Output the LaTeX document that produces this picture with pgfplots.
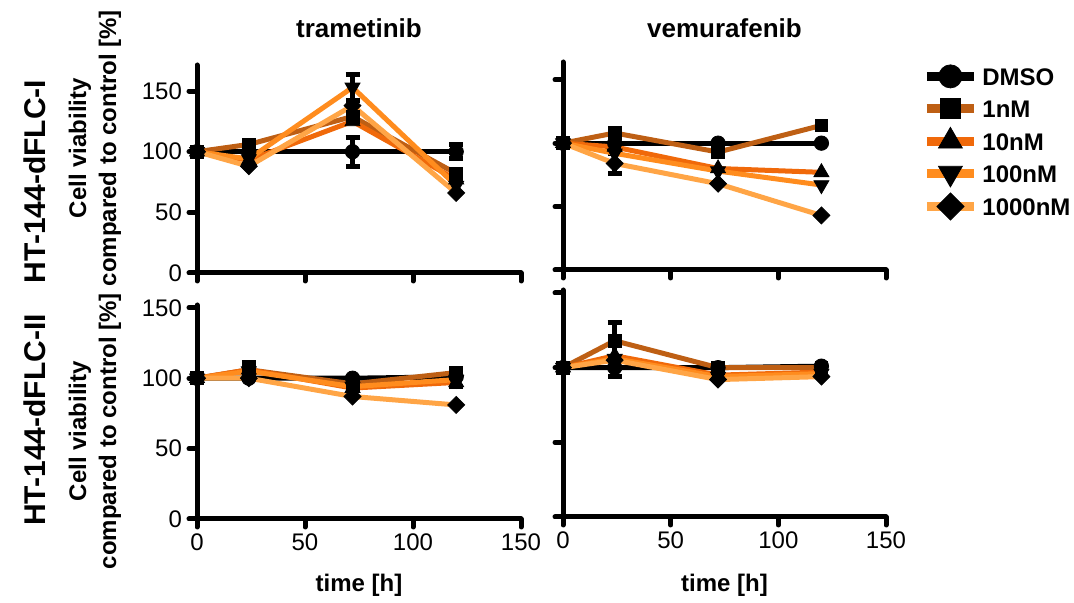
\documentclass[border=0pt]{standalone}
\usepackage{fontspec}
\setmainfont{Liberation Sans}
\usepackage{pgfplots}
\usepackage{pgfplotstable}
\pgfplotsset{compat=1.18}

\definecolor{cA}{RGB}{190,95,20}
\definecolor{cB}{RGB}{240,105,10}
\definecolor{cC}{RGB}{255,140,30}
\definecolor{cD}{RGB}{255,165,70}

% columns: time, DMSO, 1nM, 10nM, 100nM, 1000nM
\pgfplotstableread{
t dmso n1 n10 n100 n1000
0 100 100 100 100 100
24 100 106 93 94 88
72 100 129 125 153 138
120 100 82 77 72 66
}\tramI
\pgfplotstableread{
t dmso n1 n10 n100 n1000
0 100 100 100 100 100
24 100 108 97 92 84
72 100 93 80 78 68
120 100 114 77 67 43
}\vemI
\pgfplotstableread{
t dmso n1 n10 n100 n1000
0 100 100 100 100 100
24 100 106 106 105 100
72 100 96 93 94 87
120 101 104 97 99 81
}\tramII
\pgfplotstableread{
t dmso n1 n10 n100 n1000
0 100 100 100 100 100
24 100 118 108 106 105
72 100 100 95 94 92
120 101 100 97 96 94
}\vemII
% error bars (mean, sd)
\pgfplotstableread{
t y e
72 100 12
72 153 11
120 100 6
}\tramIerr
\pgfplotstableread{
t y e
24 84 8
}\vemIerr
\pgfplotstableread{
t y e
24 105 6
120 100 6
}\tramIIerr
\pgfplotstableread{
t y e
24 118 12
24 100 6
}\vemIIerr

\tikzset{mk/.style={solid, line width=0.4pt, draw=black, fill=black}}

\pgfplotsset{
  panel/.style={
    scale only axis, xmin=0, xmax=150, ymin=0,
    axis lines=left,
    axis line style={-, line width=2.5pt, line cap=round},
    tick align=outside, major tick length=4pt,
    tick style={line width=2.5pt, line cap=round, black},
    xtick={0,50,100,150}, ytick={0,50,100,150},
    tick label style={font=\fontsize{12}{13}\selectfont},
    /pgf/number format/assume math mode=true,
    clip=false,
    xlabel style={at={(axis description cs:0.5,0)}, anchor=center, yshift=-33pt,
      font=\bfseries\fontsize{12}{13}\selectfont},
    ylabel style={align=center, anchor=center, font=\bfseries\fontsize{12}{15}\selectfont},
  },
  ser/.style={line width=2.5pt},
  sdmso/.style={ser, black, mark=*, mark size=3.6pt, mark options={mk}},
  s1/.style={ser, cA, mark=square*, mark size=3.2pt, mark options={mk}},
  s10/.style={ser, cB, mark=triangle*, mark size=4.3pt, mark options={mk}},
  s100/.style={ser, cC, mark=triangle*, mark size=4.3pt, mark options={mk, rotate=180}},
  s1000/.style={ser, cD, mark=square*, mark size=3pt, mark options={mk, rotate=45}},
  errb/.style={forget plot, draw=none, mark=none,
    error bars/.cd, y dir=both, y explicit,
    error bar style={draw=black, line width=2.5pt},
    error mark options={draw=black, line width=2.5pt, mark size=3.5pt, rotate=90}},
}

\begin{document}
\begin{tikzpicture}
\path[use as bounding box] (0,0) rectangle (537pt,301.5pt);

% top left
\begin{axis}[panel, at={(98.5pt,165pt)}, anchor=south west,
  width=162pt, height=104pt, ymax=171.5, xticklabels={},
  ylabel={Cell viability\\compared to control [\%]},
  ylabel style={at={(axis description cs:-0.315,0.6)}}]
\addplot[errb] table[x=t, y=y, y error=e]{\tramIerr};
\addplot[sdmso] table[x=t, y=dmso]{\tramI};
\addplot[s1] table[x=t, y=n1]{\tramI};
\addplot[s10] table[x=t, y=n10]{\tramI};
\addplot[s100] table[x=t, y=n100]{\tramI};
\addplot[s1000] table[x=t, y=n1000]{\tramI};
\node[font=\bfseries\fontsize{13}{15}\selectfont, yshift=18.5pt] at (axis description cs:0.5,1) {trametinib};
\node[rotate=90, font=\bfseries\fontsize{15}{17}\selectfont] at (axis description cs:-0.5,0.44) {HT-144-dFLC-I};
\end{axis}

% top right
\begin{axis}[panel, at={(281.5pt,166.5pt)}, anchor=south west,
  width=161.5pt, height=104pt, ymax=164, xticklabels={}, yticklabels={},
  legend style={at={(rel axis cs:1,1)}, anchor=north west, xshift=15pt, yshift=1.5pt,
    draw=none, fill=none, row sep=3pt,
    font=\bfseries\fontsize{12}{14}\selectfont,
    nodes={inner sep=2pt, text height=9pt, text depth=0pt}},
  legend cell align=left,
  legend image code/.code={\draw[mark repeat=2, mark phase=2, #1, line width=4.5pt,
    every mark/.append style={scale=1.6}]
    plot coordinates {(0pt,0pt) (11.75pt,0pt) (23.5pt,0pt)};}]
\addplot[errb] table[x=t, y=y, y error=e]{\vemIerr};
\addplot[sdmso] table[x=t, y=dmso]{\vemI};
\addplot[s1] table[x=t, y=n1]{\vemI};
\addplot[s10] table[x=t, y=n10]{\vemI};
\addplot[s100] table[x=t, y=n100]{\vemI};
\addplot[s1000] table[x=t, y=n1000]{\vemI};
\legend{DMSO,1nM,10nM,100nM,1000nM}
\node[font=\bfseries\fontsize{13}{15}\selectfont, yshift=17pt] at (axis description cs:0.5,1) {vemurafenib};
\end{axis}

% bottom left
\begin{axis}[panel, at={(98.5pt,42pt)}, anchor=south west,
  width=162pt, height=107pt, ymax=152,
  xlabel={time [h]},
  ylabel={Cell viability\\compared to control [\%]},
  ylabel style={at={(axis description cs:-0.315,0.41)}}]
\addplot[errb] table[x=t, y=y, y error=e]{\tramIIerr};
\addplot[sdmso] table[x=t, y=dmso]{\tramII};
\addplot[s1] table[x=t, y=n1]{\tramII};
\addplot[s10] table[x=t, y=n10]{\tramII};
\addplot[s100] table[x=t, y=n100]{\tramII};
\addplot[s1000] table[x=t, y=n1000]{\tramII};
\node[rotate=90, font=\bfseries\fontsize{15}{17}\selectfont] at (axis description cs:-0.5,0.463) {HT-144-dFLC-II};
\end{axis}

% bottom right
\begin{axis}[panel, at={(281.5pt,43pt)}, anchor=south west,
  width=161.5pt, height=113.5pt, ymax=152, yticklabels={},
  xlabel={time [h]}, xlabel style={yshift=-1pt}]
\addplot[errb] table[x=t, y=y, y error=e]{\vemIIerr};
\addplot[sdmso] table[x=t, y=dmso]{\vemII};
\addplot[s1] table[x=t, y=n1]{\vemII};
\addplot[s10] table[x=t, y=n10]{\vemII};
\addplot[s100] table[x=t, y=n100]{\vemII};
\addplot[s1000] table[x=t, y=n1000]{\vemII};
\end{axis}
\end{tikzpicture}
\end{document}
